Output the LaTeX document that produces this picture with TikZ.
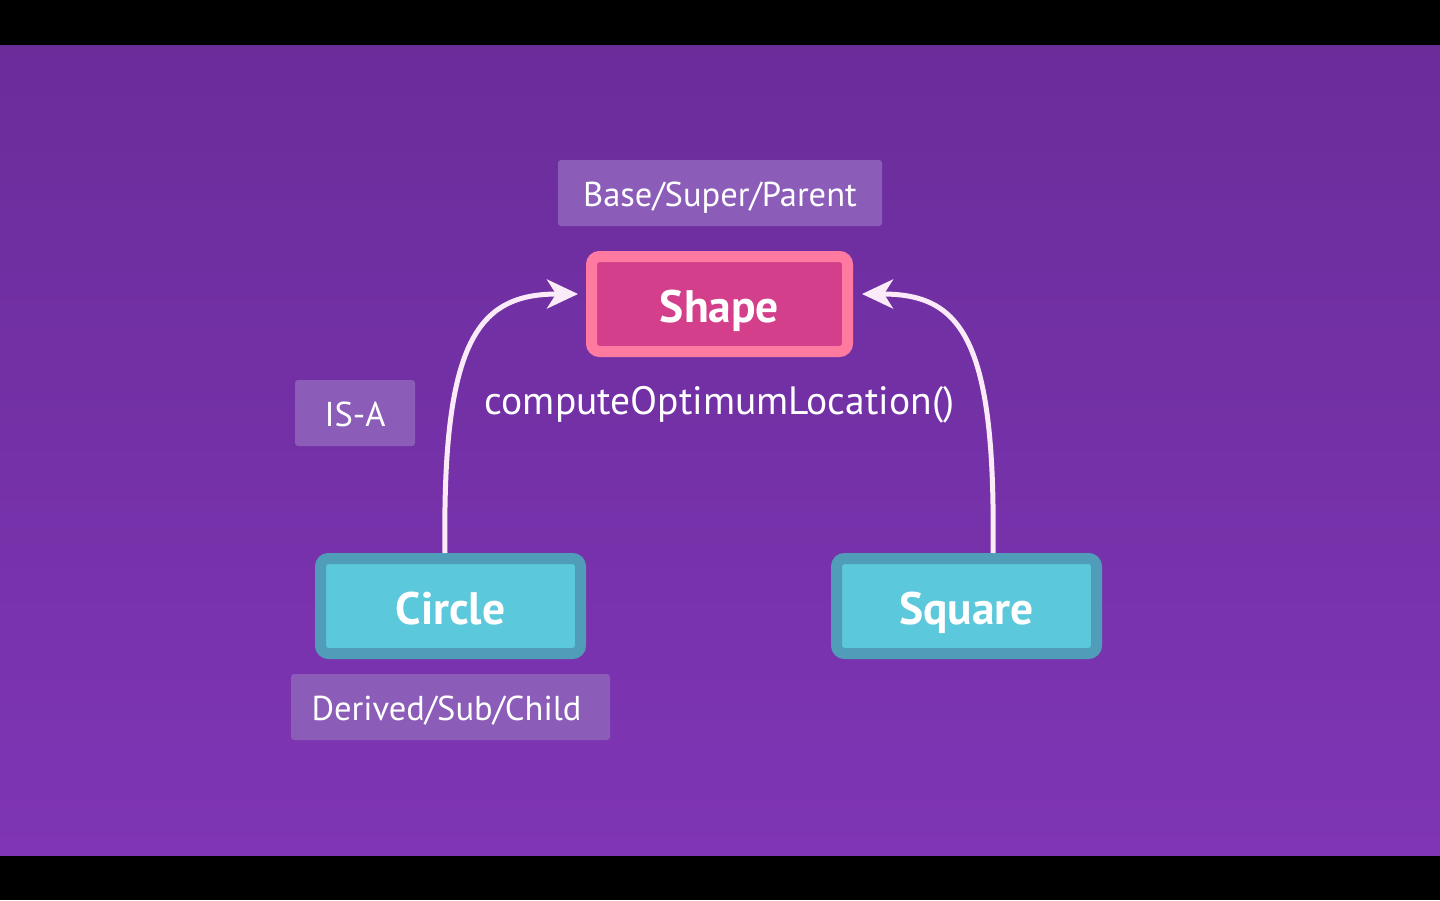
\documentclass[tikz,border=0pt]{standalone}
\usepackage{fontspec}
\setmainfont{PT Sans}
\usetikzlibrary{arrows.meta}
\definecolor{bgtop}{RGB}{106,45,154}
\definecolor{bgbot}{RGB}{127,53,181}
\definecolor{lblfill}{RGB}{139,93,184}
\definecolor{pinkborder}{RGB}{255,122,160}
\definecolor{pinkfill}{RGB}{211,63,138}
\definecolor{cyanborder}{RGB}{80,157,186}
\definecolor{cyanfill}{RGB}{92,200,219}
\definecolor{arrowcol}{RGB}{251,234,248}
\tikzset{
  lbl/.style={fill=lblfill, rounded corners=3pt, text=white, inner sep=0pt,
    minimum height=66pt, text height=30pt, text depth=4pt,
    font=\fontsize{34.5}{38}\selectfont},
  mainbox/.style={line width=11pt, rounded corners=8pt, text=white, inner sep=0pt,
    minimum height=95pt, text height=40pt, text depth=4pt,
    font=\bfseries\fontsize{45.5}{48}\selectfont},
  parentbox/.style={mainbox, draw=pinkborder, fill=pinkfill, minimum width=256pt},
  childbox/.style={mainbox, draw=cyanborder, fill=cyanfill, minimum width=260pt},
  isa/.style={line width=5pt, draw=arrowcol,
    -{Stealth[length=31pt,width=29pt,inset=9pt,fill=arrowcol]}}
}
\begin{document}
\begin{tikzpicture}[x=1pt,y=-1pt]
\useasboundingbox (0,0) rectangle (1440,900);
\fill[black] (0,0) rectangle (1440,900);
\shade[top color=bgtop, bottom color=bgbot] (0,45) rectangle (1440,855);

\node[lbl, minimum width=324pt] (base) at (720,193) {Base/Super/Parent};
\node[parentbox] (shape) at (719.5,304) {Shape};
\node[lbl, minimum width=120pt] (isalbl) at (355,413) {IS-A};
\node[text=white, font=\fontsize{39.5}{42}\selectfont] (method) at (719.5,405) {computeOptimumLocation()};
\node[childbox] (circle) at (450.5,606) {Circle};
\node[childbox] (square) at (966.5,606) {Square};
\node[lbl, minimum width=319pt] (derived) at (450.5,707) {\hspace*{-8pt}Derived/Sub/Child};

\draw[isa] ([xshift=-5.5pt]circle.north) .. controls +(-3,-213) and +(-100,0) .. ([shift={(-8,-10)}]shape.west);
\draw[isa] ([xshift=26.5pt]square.north) .. controls +(3,-213) and +(100,0) .. ([shift={(9,-10)}]shape.east);
\end{tikzpicture}
\end{document}
